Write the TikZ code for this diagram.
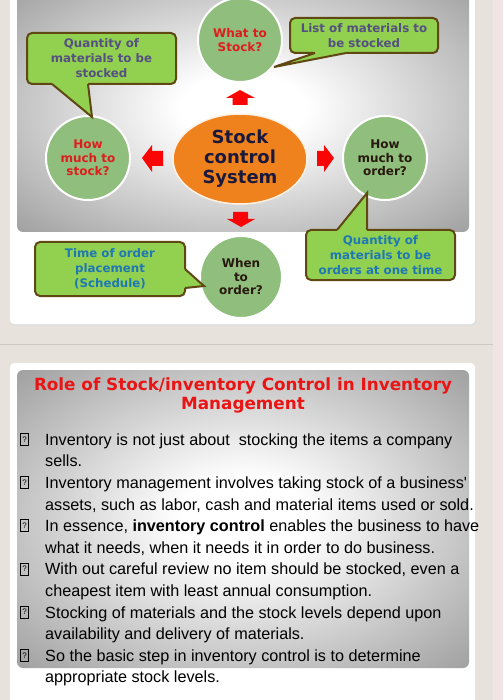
\documentclass[tikz,border=0pt]{standalone}
\usepackage{fontspec}
\newfontfamily\verd{DejaVu Sans}
\newfontfamily\arialf{Liberation Sans}
\usetikzlibrary{calc,shapes.geometric}
\definecolor{bgcol}{RGB}{231,226,219}
\definecolor{pinkcol}{RGB}{240,228,228}
\definecolor{sepcol}{RGB}{205,200,194}
\definecolor{glowa}{RGB}{168,168,168}
\definecolor{glowmid}{RGB}{115,115,115}
\definecolor{glowout}{RGB}{78,78,78}
\definecolor{circfill}{RGB}{143,190,125}
\definecolor{callfill}{RGB}{146,208,80}
\definecolor{callline}{RGB}{95,72,18}
\definecolor{calltxtA}{RGB}{85,80,130}
\definecolor{calltxtB}{RGB}{30,120,180}
\definecolor{orangecol}{RGB}{240,130,30}
\definecolor{navytxt}{RGB}{25,25,60}
\definecolor{redtxt}{RGB}{222,30,30}
\definecolor{darktxt}{RGB}{40,25,15}
\definecolor{arrowred}{RGB}{250,5,5}
\definecolor{titlered}{RGB}{235,20,20}
\pgfdeclareradialshading{glow}{\pgfpoint{0bp}{0bp}}{color(0bp)=(white); color(7bp)=(white); color(33bp)=(glowa); color(50bp)=(glowmid); color(72bp)=(glowout)}
\tikzset{
  circnode/.style={circle, draw=white, line width=2pt, fill=circfill, minimum size=84pt, inner sep=0pt, align=center,
     font=\verd\bfseries\fontsize{12}{13.5}\selectfont},
  callbox/.style={rectangle, rounded corners=5pt, draw=callline, line width=2pt, fill=callfill, inner sep=0pt, align=center,
     font=\verd\bfseries\fontsize{11.8}{15}\selectfont},
  ptrfill/.style={fill=callfill},
  ptrline/.style={draw=callline, line width=2pt, line join=miter},
  redarrow/.style={fill=arrowred},
  bultxt/.style={anchor=base west, inner sep=0pt, font=\arialf\fontsize{16.2}{21.6}\selectfont, text=black},
  bulbox/.style={draw=black, line width=0.6pt, minimum width=7.5pt, minimum height=12pt, inner sep=0pt,
     font=\arialf\fontsize{8}{8}\selectfont},
}
\begin{document}
\begin{tikzpicture}[x=1pt,y=-1pt]
\useasboundingbox (0,0) rectangle (503,700);
% background
\fill[bgcol] (0,0) rectangle (503,700);
\fill[pinkcol] (493,0) rectangle (503,700);
% top card
\fill[black!12, rounded corners=4pt] (11,-10) rectangle (476,326);
\fill[white, rounded corners=4pt] (10,-10) rectangle (475,324);
\shade[shading=glow, rounded corners=6pt] (17,-15) rectangle (469,232);
% separator
\draw[sepcol, line width=0.8pt] (0,344) -- (493,344);
% bottom card
\fill[white, rounded corners=4pt] (10,363) rectangle (475,710);
\shade[shading=glow, rounded corners=6pt] (17,370) rectangle (469,668);

% circles
\node[circnode, text=redtxt] (what) at (240,40) {What to\\Stock?};
\node[circnode, text=redtxt] (howstock) at (88,158) {How\\much to\\stock?};
\node[circnode, text=darktxt] (howorder) at (385,158) {How\\much to\\order?};
\node[circnode, text=darktxt, minimum size=82pt] (when) at (241,277) {When\\to\\order?};
\node[ellipse, draw=white!90!orange, line width=1.5pt, fill=orangecol, minimum width=134pt, minimum height=90pt,
  inner sep=0pt, align=center, text=navytxt, font=\verd\bfseries\fontsize{18}{20}\selectfont] (sys) at (240,159) {Stock\\control\\System};

% red block arrows
\fill[redarrow] (240,90) -- (255,98) -- (247.5,98) -- (247.5,105) -- (232.5,105) -- (232.5,98) -- (226,98) -- cycle;
\fill[redarrow] (241,227) -- (255,219) -- (248,219) -- (248,212) -- (233,212) -- (233,219) -- (227,219) -- cycle;
\fill[redarrow] (142,158) -- (152,145) -- (152,151) -- (163,151) -- (163,166) -- (152,166) -- (152,172) -- cycle;
\fill[redarrow] (334,158) -- (324,145) -- (324,151) -- (317,151) -- (317,166) -- (324,166) -- (324,172) -- cycle;

% callouts
\node[callbox, minimum width=149pt, minimum height=51pt, text=calltxtA] (qstock) at (101.5,58.5) {Quantity of\\materials to be\\stocked};
\coordinate (p1a) at (52,84); \coordinate (p1t) at (92,117); \coordinate (p1b) at (88,84);
\fill[ptrfill] ($(p1a)+(0,-2.5)$) -- (p1a) -- (p1t) -- (p1b) -- ($(p1b)+(0,-2.5)$) -- cycle;
\draw[ptrline] (p1a) -- (p1t) -- (p1b);

\node[callbox, minimum width=148pt, minimum height=35pt, text=calltxtA] (list) at (364,35.5) {List of materials to\\be stocked};
\coordinate (p2a) at (315,53); \coordinate (p2t) at (274,67); \coordinate (p2b) at (346,53);
\fill[ptrfill] ($(p2a)+(0,-2.5)$) -- (p2a) -- (p2t) -- (p2b) -- ($(p2b)+(0,-2.5)$) -- cycle;
\draw[ptrline] (p2a) -- (p2t) -- (p2b);

\node[callbox, minimum width=150pt, minimum height=54pt, text=calltxtB] (time) at (110,269) {Time of order\\placement\\(Schedule)};
\coordinate (p3a) at (185,269); \coordinate (p3t) at (204,286); \coordinate (p3b) at (185,288);
\fill[ptrfill] ($(p3a)+(-2.5,0)$) -- (p3a) -- (p3t) -- (p3b) -- ($(p3b)+(-2.5,0)$) -- cycle;
\draw[ptrline] (p3a) -- (p3t) -- (p3b);

\node[callbox, minimum width=149pt, minimum height=50pt, text=calltxtB] (qorder) at (380.5,255) {Quantity of\\materials to be\\orders at one time};
\coordinate (p4a) at (337,230); \coordinate (p4t) at (367,193); \coordinate (p4b) at (367,230);
\fill[ptrfill] ($(p4a)+(0,2.5)$) -- (p4a) -- (p4t) -- (p4b) -- ($(p4b)+(0,2.5)$) -- cycle;
\draw[ptrline] (p4a) -- (p4t) -- (p4b);

% bottom title
\node[align=center, text=titlered, inner sep=0pt, font=\verd\bfseries\fontsize{16.8}{19}\selectfont, anchor=base] (title) at (243,409)
  {Role of Stock/inventory Control in Inventory\\Management};

% bullets
\node[bulbox] (k1) at (24.5,439.5) {?};
\node[bultxt] (b1a) at (45,445.3) {Inventory is not just about~ stocking the items a company};
\node[bultxt] (b1b) at (45,466.9) {sells.};
\node[bulbox] (k2) at (24.5,482.5) {?};
\node[bultxt] (b2a) at (45,488.5) {Inventory management involves taking stock of a business'};
\node[bultxt] (b2b) at (45,510.1) {assets, such as labor, cash and material items used or sold.};
\node[bulbox] (k3) at (24.5,525.7) {?};
\node[bultxt] (b3a) at (45,531.7) {In essence, \textbf{inventory control} enables the business to have};
\node[bultxt] (b3b) at (45,553.3) {what it needs, when it needs it in order to do business.};
\node[bulbox] (k4) at (24.5,568.9) {?};
\node[bultxt] (b4a) at (45,574.9) {With out careful review no item should be stocked, even a};
\node[bultxt] (b4b) at (45,596.5) {cheapest item with least annual consumption.};
\node[bulbox] (k5) at (24.5,612.1) {?};
\node[bultxt] (b5a) at (45,618.1) {Stocking of materials and the stock levels depend upon};
\node[bultxt] (b5b) at (45,639.7) {availability and delivery of materials.};
\node[bulbox] (k6) at (24.5,655.3) {?};
\node[bultxt] (b6a) at (45,661.3) {So the basic step in inventory control is to determine};
\node[bultxt] (b6b) at (45,682.9) {appropriate stock levels.};
\end{tikzpicture}
\end{document}
